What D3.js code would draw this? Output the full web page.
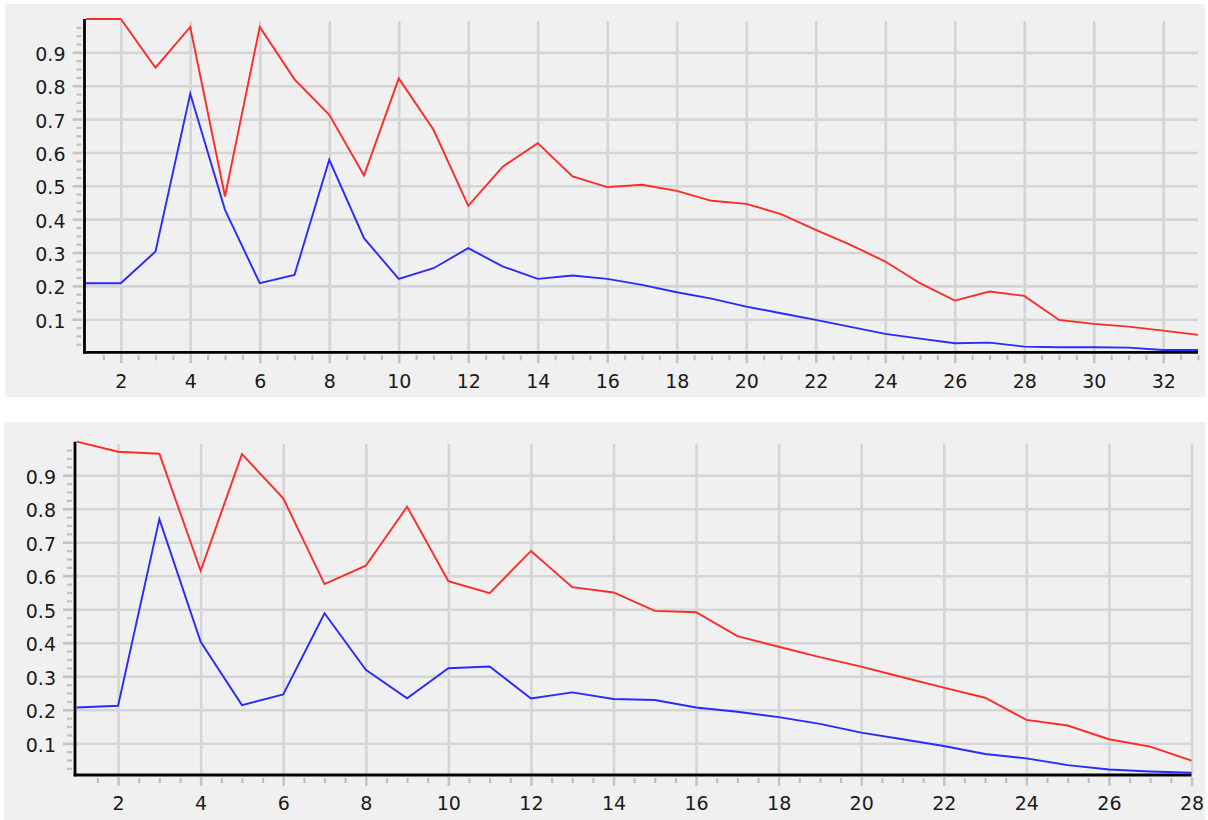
<!DOCTYPE html>
<html><head><meta charset="utf-8">
<script src="https://cdn.jsdelivr.net/npm/d3@7"></script>
<style>
html,body{margin:0;padding:0;background:#fff;}
svg{display:block;}
text{font-family:"DejaVu Sans",Verdana,sans-serif;}
</style></head>
<body>
<svg id="c" width="1208" height="820"></svg>
<script>
// ---------- data ----------
const topX = [1,2,3,4,5,6,7,8,9,10,11,12,13,14,15,16,17,18,19,20,21,22,23,24,25,26,27,28,29,30,31,32,33];
const topRed = [1.0,1.0,0.854,0.976,0.468,0.976,0.819,0.713,0.531,0.822,0.668,0.440,0.558,0.628,0.528,0.496,0.503,0.485,0.455,0.446,0.415,0.368,0.323,0.273,0.208,0.156,0.183,0.170,0.098,0.086,0.078,0.066,0.053];
const topBlue = [0.208,0.208,0.303,0.776,0.428,0.208,0.233,0.578,0.343,0.221,0.253,0.313,0.258,0.221,0.231,0.221,0.203,0.181,0.162,0.138,0.118,0.098,0.077,0.056,0.042,0.028,0.030,0.018,0.016,0.016,0.015,0.008,0.008];

const botX = [1,2,3,4,5,6,7,8,9,10,11,12,13,14,15,16,17,18,19,20,21,22,23,24,25,26,27,28];
const botRed = [1.0,0.970,0.964,0.615,0.963,0.831,0.575,0.630,0.806,0.584,0.548,0.674,0.566,0.550,0.495,0.491,0.420,0.388,0.357,0.329,0.297,0.266,0.236,0.170,0.153,0.112,0.090,0.048];
const botBlue = [0.207,0.212,0.769,0.403,0.214,0.246,0.488,0.319,0.234,0.324,0.329,0.234,0.252,0.232,0.229,0.207,0.194,0.178,0.158,0.132,0.112,0.092,0.068,0.055,0.035,0.022,0.016,0.012];

const yTickLabels = [0.1,0.2,0.3,0.4,0.5,0.6,0.7,0.8,0.9];
const topXTickLabels = [2,4,6,8,10,12,14,16,18,20,22,24,26,28,30,32];
const botXTickLabels = [2,4,6,8,10,12,14,16,18,20,22,24,26,28];

// ---------- drawing ----------
const svg = d3.select("#c");

function chart(cfg){
  const g = svg.append("g");
  // panel
  g.append("rect").attr("x",cfg.panel[0]).attr("y",cfg.panel[1])
    .attr("width",cfg.panel[2]).attr("height",cfg.panel[3]).attr("fill","#f0f0f0");

  const x = d3.scaleLinear().domain(cfg.xDomain).range(cfg.xRange);
  const y = d3.scaleLinear().domain([0,1]).range(cfg.yRange);
  const x1 = cfg.xRange[1];
  const y1 = cfg.yRange[1];

  // grid lines
  const hg = g.append("g").attr("transform",`translate(${cfg.axisX},0)`)
    .call(d3.axisLeft(y).tickValues(yTickLabels).tickSize(-(x1-cfg.axisX)).tickFormat(""));
  hg.select(".domain").remove();
  hg.selectAll("line").attr("stroke","#d5d5d5").attr("stroke-width",2.6);

  const vg = g.append("g").attr("transform",`translate(0,${cfg.axisY})`)
    .call(d3.axisBottom(x).tickValues(cfg.xTicks).tickSize(-(cfg.axisY-y1-2)).tickFormat(""));
  vg.select(".domain").remove();
  vg.selectAll("line").attr("stroke","#d5d5d5").attr("stroke-width",2.6);

  // minor ticks
  const yMinor = d3.range(0.025,1.0,0.025).filter(v=>Math.abs(v*10-Math.round(v*10))>1e-6);
  const ym = g.append("g").attr("transform",`translate(${cfg.axisX-3},0)`)
    .call(d3.axisLeft(y).tickValues(yMinor).tickSize(5).tickFormat(""));
  ym.select(".domain").remove();
  ym.selectAll("line").attr("stroke","#bfbfbf").attr("stroke-width",2.2);

  const xMinor = d3.range(cfg.xDomain[0]+0.5, cfg.xDomain[1]+0.01, 0.5).filter(v=>!(v%2===0));
  const xm = g.append("g").attr("transform",`translate(0,${cfg.axisY+3})`)
    .call(d3.axisBottom(x).tickValues(xMinor).tickSize(5).tickFormat(""));
  xm.select(".domain").remove();
  xm.selectAll("line").attr("stroke","#bfbfbf").attr("stroke-width",2.2);

  // major ticks + labels
  const ya = g.append("g").attr("transform",`translate(${cfg.axisX-2},0)`)
    .call(d3.axisLeft(y).tickValues(yTickLabels).tickSize(10).tickPadding(7).tickFormat(d3.format(".1f")));
  ya.select(".domain").remove();
  ya.selectAll("line").attr("stroke","#c4c4c4").attr("stroke-width",2.6);
  ya.selectAll("text").attr("font-size",19).attr("fill","#1a1a1a")
    .attr("font-family","DejaVu Sans, Verdana, sans-serif").attr("dy","0.42em");

  const xa = g.append("g").attr("transform",`translate(0,${cfg.axisY+2})`)
    .call(d3.axisBottom(x).tickValues(cfg.xTicks).tickSize(9).tickPadding(11).tickFormat(d3.format("d")));
  xa.select(".domain").remove();
  xa.selectAll("line").attr("stroke","#c4c4c4").attr("stroke-width",2.6);
  xa.selectAll("text").attr("font-size",19).attr("fill","#1a1a1a")
    .attr("font-family","DejaVu Sans, Verdana, sans-serif");

  // axis lines
  g.append("line").attr("x1",cfg.axisX).attr("x2",cfg.axisX).attr("y1",y1).attr("y2",cfg.axisY+1.3)
    .attr("stroke","#000").attr("stroke-width",2.8);
  g.append("line").attr("x1",cfg.axisX-1.3).attr("x2",x1).attr("y1",cfg.axisY).attr("y2",cfg.axisY)
    .attr("stroke","#000").attr("stroke-width",2.8);

  // series
  const line = d3.line().x(d=>x(d[0])).y(d=>y(d[1]));
  cfg.series.forEach(s=>{
    g.append("path").datum(cfg.xs.map((v,i)=>[v,s.values[i]]))
      .attr("d",line).attr("fill","none").attr("stroke",s.color)
      .attr("stroke-width",1.9).attr("stroke-linejoin","miter");
  });
}

chart({
  panel:[5,4,1200,393],
  xDomain:[1,33], xRange:[86,1198],
  yRange:[352.6,19],
  axisX:84.5, axisY:352.3,
  xTicks:topXTickLabels, xs:topX,
  series:[{values:topBlue,color:"#2a2aff"},{values:topRed,color:"#ff2a2a"}]
});

chart({
  panel:[4,422,1201,398],
  xDomain:[1,28], xRange:[76.8,1191.5],
  yRange:[776.8,441.7],
  axisX:75, axisY:775,
  xTicks:botXTickLabels, xs:botX,
  series:[{values:botBlue,color:"#2a2aff"},{values:botRed,color:"#ff2a2a"}]
});
</script>
</body></html>
